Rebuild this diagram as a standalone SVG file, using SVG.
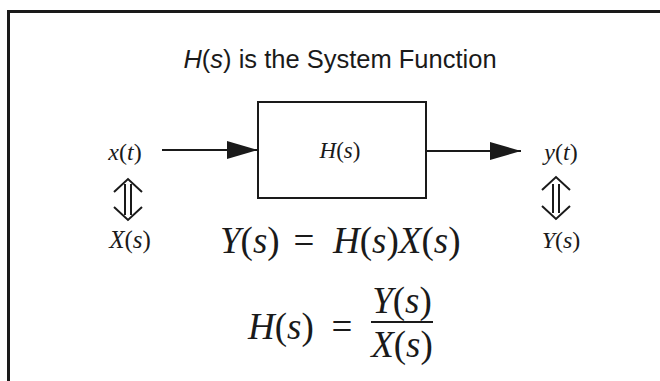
<svg xmlns="http://www.w3.org/2000/svg" width="660" height="381" viewBox="0 0 660 381">
<style>
.m{font-family:"Liberation Serif","Times New Roman",serif;fill:#1a1a1a}
.t{font-family:"Liberation Sans",Arial,sans-serif;font-size:25.5px;fill:#1a1a1a}
.ln{stroke:#1a1a1a;stroke-width:2;fill:none}
</style>
<defs>
<marker id="ah" markerWidth="32" markerHeight="20" refX="31" refY="9" orient="auto" markerUnits="userSpaceOnUse">
<path d="M0,0 L31,9 L0,18 Z" fill="#1a1a1a"/>
</marker>
</defs>
<rect width="660" height="381" fill="#fff"/>
<path d="M8.5,381 V11.5 H660" stroke="#1a1a1a" stroke-width="3" fill="none"/>
<text class="t" x="340" y="68" text-anchor="middle"><tspan font-style="italic">H</tspan>(<tspan font-style="italic">s</tspan>) is the System Function</text>
<g id="system">
<rect class="ln" x="258" y="102" width="168" height="96"/>
<text class="m" x="340" y="158" font-size="23" text-anchor="middle"><tspan font-style="italic">H</tspan>(<tspan font-style="italic">s</tspan>)</text>
</g>
<g id="input">
<text class="m" x="125" y="160" font-size="24" text-anchor="middle"><tspan font-style="italic">x</tspan>(<tspan font-style="italic">t</tspan>)</text>
<text class="m" x="130" y="248" font-size="25" text-anchor="middle"><tspan font-style="italic">X</tspan>(<tspan font-style="italic">s</tspan>)</text>
<path class="ln" d="M125,184 V215 M131,184 V215 M114,192 L128,179 L142,192 M114,207 L128,220 L142,207"/>
</g>
<g id="output">
<text class="m" x="561" y="160" font-size="24" text-anchor="middle"><tspan font-style="italic">y</tspan>(<tspan font-style="italic">t</tspan>)</text>
<text class="m" x="561" y="248" font-size="24" text-anchor="middle"><tspan font-style="italic">Y</tspan>(<tspan font-style="italic">s</tspan>)</text>
<path class="ln" d="M553,184 V213 M559,184 V213 M542,190 L556,177 L570,190 M542,206 L556,219 L570,206"/>
</g>
<g id="connectors">
<line class="ln" x1="162" y1="150" x2="258" y2="150" marker-end="url(#ah)"/>
<line class="ln" x1="426" y1="151" x2="521" y2="151" marker-end="url(#ah)"/>
</g>
<g id="equations">
<text class="m" x="220" y="253" font-size="37"><tspan font-style="italic">Y</tspan>(<tspan font-style="italic">s</tspan>)</text>
<text class="m" x="304" y="253" font-size="37" text-anchor="middle">=</text>
<text class="m" x="333" y="253" font-size="37"><tspan font-style="italic">H</tspan>(<tspan font-style="italic">s</tspan>)<tspan font-style="italic">X</tspan>(<tspan font-style="italic">s</tspan>)</text>
<text class="m" x="248" y="339" font-size="37"><tspan font-style="italic">H</tspan>(<tspan font-style="italic">s</tspan>)</text>
<text class="m" x="342" y="339" font-size="37" text-anchor="middle">=</text>
<text class="m" x="402" y="313" font-size="37" text-anchor="middle"><tspan font-style="italic">Y</tspan>(<tspan font-style="italic">s</tspan>)</text>
<line x1="371" y1="322" x2="433" y2="322" stroke="#1a1a1a" stroke-width="2"/>
<text class="m" x="402" y="357" font-size="37" text-anchor="middle"><tspan font-style="italic">X</tspan>(<tspan font-style="italic">s</tspan>)</text>
</g>
</svg>
